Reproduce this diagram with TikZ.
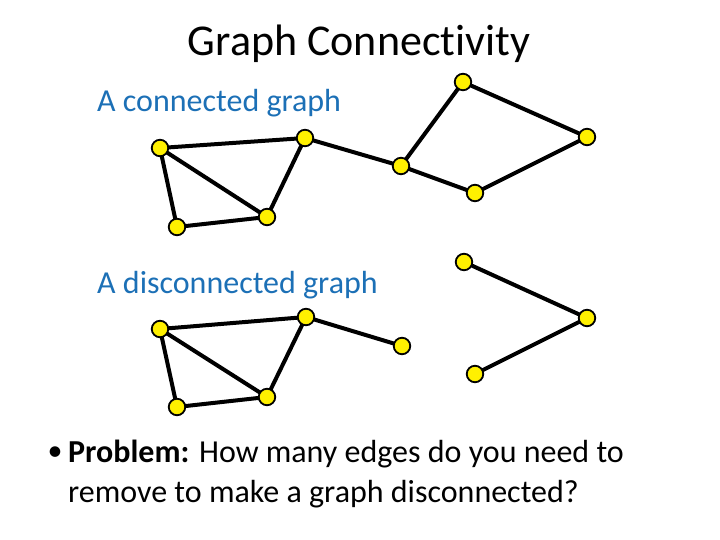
\documentclass[tikz,border=0pt]{standalone}
\usepackage{fontspec}
\setmainfont{Carlito}[Ligatures={NoCommon}]
\definecolor{lblblue}{RGB}{28,112,182}
\definecolor{vyellow}{RGB}{255,240,0}
\tikzset{
  vert/.style={circle, draw=black, line width=1.8pt, fill=vyellow, minimum size=16.5pt, inner sep=0pt},
  edge/.style={line width=4pt, black},
  txt/.style={inner sep=0pt, anchor=base west, font=\fontsize{32}{39}\selectfont},
}
\begin{document}
\begin{tikzpicture}[x=1pt, y=-1pt]
\useasboundingbox (0,0) rectangle (720,540);
% title
\node[inner sep=0pt, anchor=base, font=\fontsize{44}{53}\selectfont] (title) at (359,56) {Graph Connectivity};
\node[txt, text=lblblue] (lab1) at (97,112) {A connected graph};
\node[txt, text=lblblue] (lab2) at (97,293) {A disconnected graph};
\node[inner sep=0pt, font=\fontsize{30}{36}\selectfont] (bul) at (55,454) {•};
\node[txt] (q1) at (68,462) {\textbf{Problem:} How many edges do you need to};
\node[txt] (q2) at (68,502) {remove to make a graph disconnected?};
% connected graph
\coordinate (a) at (160,148);
\coordinate (b) at (305,138);
\coordinate (c) at (267,217);
\coordinate (d) at (177,227);
\coordinate (e) at (401,166);
\coordinate (f) at (475,193);
\coordinate (g) at (587,137);
\coordinate (h) at (463,82);
\draw[edge] (a)--(b) (a)--(c) (a)--(d) (d)--(c) (c)--(b) (b)--(e) (e)--(h) (h)--(g) (g)--(f) (f)--(e);
\foreach \n in {a,b,c,d,e,f,g,h} \node[vert] (n\n) at (\n) {};
% disconnected graph
\coordinate (a2) at (160,329);
\coordinate (b2) at (306,317);
\coordinate (c2) at (267,397);
\coordinate (d2) at (177,407);
\coordinate (e2) at (402,346);
\coordinate (h2) at (464,262);
\coordinate (g2) at (587,318);
\coordinate (f2) at (475,374);
\draw[edge] (a2)--(b2) (a2)--(c2) (a2)--(d2) (d2)--(c2) (c2)--(b2) (b2)--(e2) (h2)--(g2) (g2)--(f2);
\foreach \n in {a2,b2,c2,d2,e2,f2,g2,h2} \node[vert] (n\n) at (\n) {};
\end{tikzpicture}
\end{document}
